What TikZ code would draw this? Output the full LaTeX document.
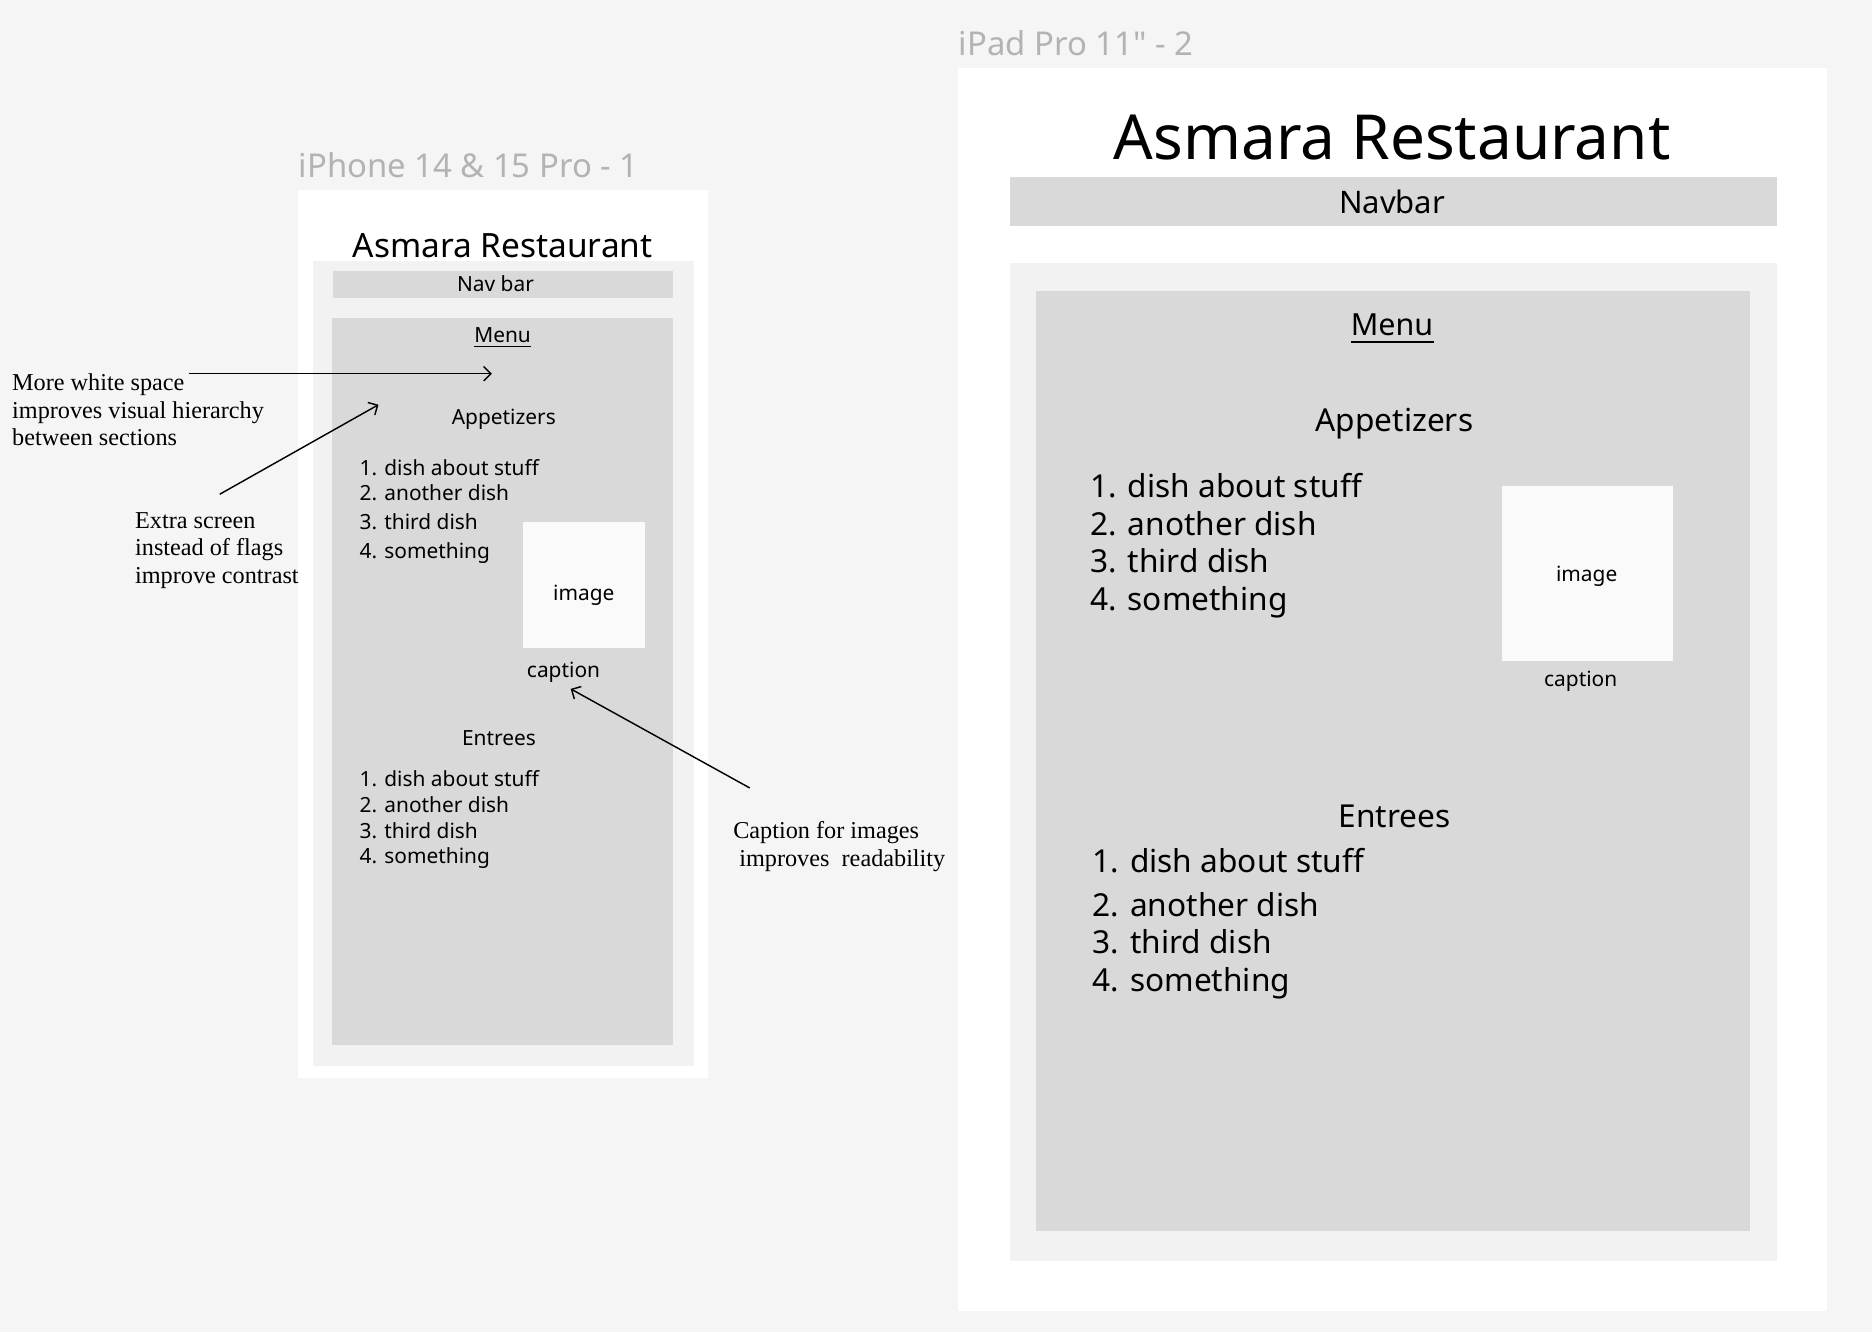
\documentclass[tikz,border=0pt]{standalone}
\usepackage{fontspec}
\setmainfont{Noto Sans}
\newfontfamily\lblfont{Noto Sans}[Ligatures=TeXOff]
\newfontfamily\annfont{Liberation Serif}
\usetikzlibrary{arrows.meta}
\definecolor{bgc}{HTML}{F5F5F5}
\definecolor{framec}{HTML}{FFFFFF}
\definecolor{innerc}{HTML}{F2F2F2}
\definecolor{grayc}{HTML}{D9D9D9}
\definecolor{imgc}{HTML}{FAFAFA}
\definecolor{labelc}{HTML}{B3B3B3}
\begin{document}
\begin{tikzpicture}[x=1pt,y=-1pt,
  t/.style={inner sep=0, text=black},
  small/.style={t, font=\fontsize{17.5}{21}\selectfont},
  big/.style={t, font=\fontsize{26.5}{31}\selectfont},
  lbl/.style={inner sep=0, text=labelc, font=\lblfont\fontsize{27.5}{32}\selectfont},
  ann/.style={inner sep=0, align=left, font=\annfont\fontsize{20.3}{23}\selectfont},
  arr/.style={line width=1.2pt, -{Straight Barb[length=6pt,width=12pt]}},
  uline/.style={line width=1.2pt}
]
\fill[bgc] (0,0) rectangle (1568,1116);
\useasboundingbox (0,0) rectangle (1568,1116);

% ---------------- iPhone ----------------
\node[lbl, anchor=mid west] (plabel) at (250,146) {iPhone 14 \& 15 Pro - 1};
\fill[framec] (250,159) rectangle (593,903);
\fill[innerc] (262,219) rectangle (581,893);
\node[t, anchor=mid, font=\fontsize{28}{33}\selectfont] (ptitle) at (421,213) {Asmara Restaurant};
\fill[grayc] (279,227) rectangle (564,250);
\node[small, anchor=mid] (pnav) at (415,241.5) {Nav bar};
\fill[grayc] (278,266) rectangle (564,875);
\node[small, anchor=mid] (pmenu) at (421,284.5) {Menu};
\draw[uline, line width=1pt] ([yshift=-3pt]pmenu.base west) -- ([yshift=-3pt]pmenu.base east);
\node[small, anchor=mid] (papp) at (422,353) {Appetizers};
\node[small, anchor=mid west] (pa1) at (301,395.5) {1. dish about stuff};
\node[small, anchor=mid west] (pa2) at (301,416.5) {2. another dish};
\node[small, anchor=mid west] (pa3) at (301,440.5) {3. third dish};
\node[small, anchor=mid west] (pa4) at (301,465.5) {4. something};
\fill[imgc] (438,437) rectangle (540,543);
\node[small, anchor=mid] (pimg) at (489,500.5) {image};
\node[small, anchor=mid] (pcap) at (472,564.5) {caption};
\node[small, anchor=mid] (pent) at (418,621.5) {Entrees};
\node[small, anchor=mid west] (pe1) at (301,656.5) {1. dish about stuff};
\node[small, anchor=mid west] (pe2) at (301,677.5) {2. another dish};
\node[small, anchor=mid west] (pe3) at (301,699.5) {3. third dish};
\node[small, anchor=mid west] (pe4) at (301,720.5) {4. something};

% ---------------- annotations ----------------
\node[ann, anchor=north west] (ann1) at (10,313) {More white space\\improves visual hierarchy\\between sections};
\node[ann, anchor=north west] (ann2) at (113,429) {Extra screen\\instead of flags\\improve contrast};
\node[ann, anchor=north west] (ann3) at (614,688) {Caption for images\\\ improves\ \ readability};
\coordinate (a1s) at (158,313);
\coordinate (a1e) at (412,313);
\coordinate (a2s) at (184,414);
\coordinate (a2e) at (317,339);
\coordinate (a3s) at (628,660);
\coordinate (a3e) at (478,577);
\draw[arr] (a1s) -- (a1e);
\draw[arr] (a2s) -- (a2e);
\draw[arr] (a3s) -- (a3e);

% ---------------- iPad ----------------
\node[lbl, anchor=mid west] (dlabel) at (803,44) {iPad Pro 11" - 2};
\fill[framec] (802,57) rectangle (1530,1098);
\node[t, anchor=mid, font=\fontsize{52}{60}\selectfont] (dtitle) at (1166,131) {Asmara Restaurant};
\fill[grayc] (846,148) rectangle (1488,189);
\node[big, anchor=mid, font=\fontsize{26}{31}\selectfont] (dnav) at (1166,176) {Navbar};
\fill[innerc] (846,220) rectangle (1488,1056);
\fill[grayc] (868,244) rectangle (1466,1031);
\node[big, anchor=mid, font=\fontsize{25.5}{31}\selectfont] (dmenu) at (1166,278.5) {Menu};
\draw[uline, line width=1.6pt] ([yshift=-5pt]dmenu.base west) -- ([yshift=-5pt]dmenu.base east);
\node[big, anchor=mid] (dapp) at (1168,359) {Appetizers};
\node[big, anchor=mid west] (da1) at (913,414) {1. dish about stuff};
\node[big, anchor=mid west] (da2) at (913,446) {2. another dish};
\node[big, anchor=mid west] (da3) at (913,477) {3. third dish};
\node[big, anchor=mid west] (da4) at (913,509) {4. something};
\fill[imgc] (1258,407) rectangle (1401,554);
\node[small, anchor=mid] (dimg) at (1329,484.5) {image};
\node[small, anchor=mid] (dcap) at (1324,572.5) {caption};
\node[big, anchor=mid] (dent) at (1168,690.5) {Entrees};
\node[big, anchor=mid west] (de1) at (915,728) {1. dish about stuff};
\node[big, anchor=mid west] (de2) at (915,765) {2. another dish};
\node[big, anchor=mid west] (de3) at (915,796) {3. third dish};
\node[big, anchor=mid west] (de4) at (915,828) {4. something};
\end{tikzpicture}
\end{document}
